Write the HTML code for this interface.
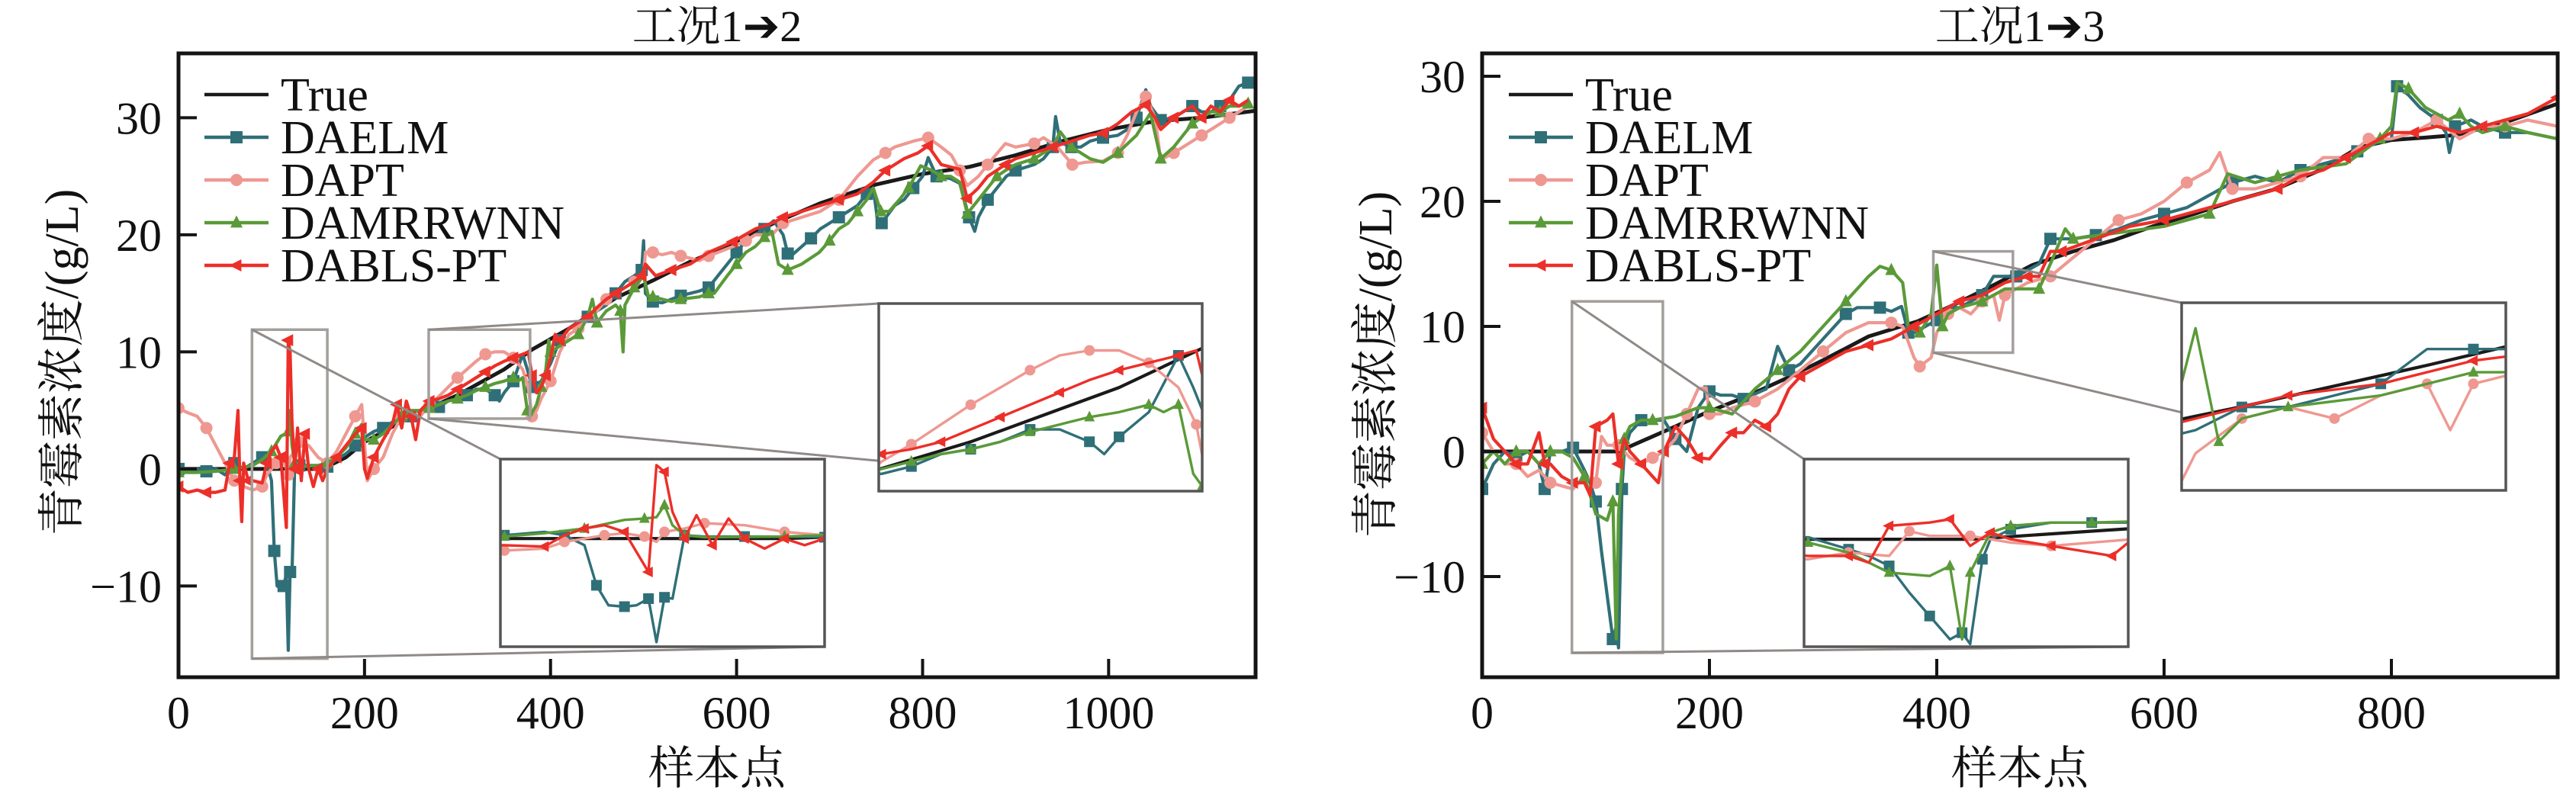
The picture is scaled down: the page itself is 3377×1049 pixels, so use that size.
<!DOCTYPE html>
<html><head><meta charset="utf-8">
<style>
html,body{margin:0;padding:0;background:#fff;overflow:hidden;width:3377px;height:1049px;}
svg{display:block;}
text{font-family:"Liberation Serif","Noto Serif CJK SC","Noto Sans CJK SC",serif;fill:#111;}
</style></head>
<body>
<svg id="fig" width="3377" height="1049" viewBox="0 0 3377 1049" xmlns="http://www.w3.org/2000/svg">
<defs>
<clipPath id="clipL"><rect x="234" y="70" width="1412" height="818"/></clipPath>
<clipPath id="clipR"><rect x="1943" y="70" width="1410" height="818"/></clipPath>
</defs>
<g id="panelL"></g>
<g id="panelR"></g>
</svg>
<script>
// ---------- data: panel 工况1→2 ----------
const L_TRUE = [[0,0],[150,0],[160,0.2],[180,1.0],[200,2.3],[250,4.5],[300,6.3],[350,8.5],[380,10.2],[420,12],[470,14.6],[510,16.1],[550,17.7],[590,19.0],[640,21],[690,22.7],[750,24.3],[800,25.2],[850,25.8],[900,26.8],[950,28],[1000,29],[1050,29.7],[1100,30],[1158,30.6]];
const L_DAELM = [[0,0],[10,-0.2],[20,0],[30,-0.2],[40,0],[50,-0.5],[60,0.5],[70,0],[80,0.5],[90,1],[95,0.5],[100,-1],[103,-7],[106,-10],[110,-10.2],[113,-10],[116,-9],[118,-15.5],[120,-8.8],[122,-9],[125,0.5],[130,0.3],[140,0.3],[150,0.3],[160,0.2],[170,0.8],[180,1.3],[190,2],[200,2.7],[210,3.2],[220,3.5],[230,4],[240,4.3],[250,4.5],[260,5],[270,5],[280,5.3],[290,5.8],[300,6],[310,6.3],[320,6.8],[330,6.8],[340,6.3],[345,5.8],[350,6.5],[360,7.5],[370,9.8],[375,8.5],[380,7],[390,7.5],[400,9],[410,11],[420,12],[430,12.5],[440,13],[450,13.5],[460,14],[470,15],[480,16],[490,16.5],[498,17],[500,19.5],[502,15],[510,14.3],[520,14.2],[530,14.5],[540,14.8],[550,15],[560,15.2],[570,15.5],[580,16.5],[590,17.5],[600,18.5],[610,19.5],[620,20],[630,20.5],[640,21.2],[650,20],[655,18.4],[660,18.3],[670,19],[680,19.7],[690,20.5],[700,21],[710,21.5],[720,22],[730,22.5],[740,23.5],[747,24],[752,21],[756,21],[770,22.5],[780,23],[790,24],[800,25],[806,26.6],[815,25],[830,24.8],[840,24.4],[850,21.5],[856,20.3],[860,21.5],[870,23],[880,24],[890,25],[900,25.5],[920,26],[930,26.5],[940,27.5],[943,30.1],[948,27.9],[960,27.5],[970,27.5],[980,28],[994,28.3],[1010,28.5],[1020,29],[1030,30],[1040,32.4],[1045,31],[1056,29.8],[1070,30],[1080,30.5],[1090,31],[1100,30.5],[1110,30.5],[1120,31],[1130,31.5],[1140,32.7],[1150,33]];
const L_DAPT = [[0,5.2],[10,4.8],[20,4.5],[30,3.5],[40,2],[50,0.5],[60,-1],[70,-1.5],[80,-1.8],[90,-1.5],[95,-0.5],[100,0],[105,0.5],[110,0.8],[115,0.3],[118,-0.5],[120,1],[125,1.5],[130,2.3],[140,2],[150,1],[160,0.5],[170,1.5],[180,3],[190,4.5],[197,5.5],[203,-1],[210,0],[220,1],[230,3],[240,4.5],[250,5],[260,4.5],[270,5.5],[280,6.2],[290,7],[300,7.8],[310,8.5],[320,9.2],[330,9.8],[340,10],[350,10],[360,9.5],[370,8.5],[376,7],[380,4.5],[385,5],[390,6],[400,7.5],[410,10],[420,11.5],[430,12],[440,12.8],[450,13.5],[460,14.5],[470,15],[480,15.5],[490,16],[500,16.5],[502,18.5],[510,18.5],[520,18.3],[530,18.5],[540,18.2],[550,18],[560,17.8],[570,18.2],[580,18.5],[596,19],[610,19.5],[620,20],[638,20],[650,21],[670,21.5],[690,22],[710,23],[730,25],[747,26.4],[760,27],[770,27.5],[790,28],[806,28.3],[820,27.5],[831,26.8],[840,25.5],[848,24.2],[860,25],[870,26],[889,27.8],[900,27.5],[920,27.8],[930,28.3],[945,27.5],[961,26],[975,26.2],[994,26.3],[1010,27],[1020,28.5],[1030,30.5],[1040,31.8],[1050,30],[1056,26.4],[1070,27],[1080,27.5],[1090,28],[1100,28.5],[1110,29],[1120,29.5],[1130,30],[1140,30.5],[1150,31]];
const L_DAMRRWNN = [[0,-0.3],[20,-0.3],[40,-0.2],[60,0],[80,0.3],[90,0.8],[100,1.5],[110,2.8],[115,3],[118,3.2],[120,5],[122,2],[125,0.5],[130,0.2],[150,0.3],[160,0.5],[170,1],[180,1.8],[190,3],[197,3.8],[200,2.5],[210,2.5],[220,3],[230,3.8],[240,4.5],[250,5],[260,5],[270,5.2],[280,5.5],[290,5.8],[300,6],[310,6.3],[320,6.7],[330,7],[340,7.3],[350,7.5],[360,7.8],[365,7.5],[370,7.8],[375,5],[378,4.5],[385,5.5],[390,7],[395,8.5],[398,11],[400,10],[410,10.5],[420,11],[430,11.5],[440,13],[445,14.5],[450,12.5],[460,13.5],[470,14],[475,13.5],[478,10],[480,14],[490,15.5],[500,16.5],[505,14.8],[510,14.7],[520,14.5],[530,14.3],[540,14.5],[550,14.6],[560,14.7],[570,15],[576,15],[590,16.5],[600,17.5],[610,18.5],[620,19],[630,19.8],[638,20.3],[645,17.5],[655,17],[670,17.5],[689,18.5],[700,19.5],[710,20.5],[720,21],[730,22],[740,23],[747,24],[755,22],[764,22],[775,23],[785,24],[798,25.9],[810,25.5],[820,25],[830,25],[840,24.5],[848,21.8],[860,23],[870,24],[880,25],[889,25.5],[900,26],[920,26.5],[940,27.5],[948,28.8],[960,27.5],[980,26.5],[994,26.2],[1010,27],[1030,28.5],[1045,30.4],[1056,26.5],[1070,27.5],[1080,28.5],[1090,29.5],[1100,30],[1110,30.5],[1120,30.5],[1130,31],[1140,31],[1150,31.2]];
const L_DABLS = [[0,-1.5],[10,-2],[20,-1.8],[30,-2],[40,-2],[50,-1.8],[55,0.5],[60,1],[64,5],[66,-1],[68,-4.5],[70,0.5],[75,-1],[80,-1],[90,-1.2],[95,0.5],[100,1.5],[105,2],[110,1],[113,-2],[116,-5],[118,11],[120,10],[122,4],[125,0],[128,3.5],[132,-1],[136,3],[140,0],[145,-1.5],[150,0],[155,-1],[160,0],[170,1],[180,2],[190,3],[197,3.5],[200,0],[203,-0.8],[210,1],[220,2.5],[230,3.8],[235,5.5],[240,3.5],[245,5.8],[250,4.5],[255,2.5],[260,5],[270,5.8],[280,6],[290,6.3],[300,6.8],[310,7.3],[320,7.8],[330,8.3],[340,8.8],[350,9.2],[360,9.5],[370,9.8],[376,10],[380,8],[385,6.5],[390,7],[395,8],[400,9.5],[405,11.5],[410,11],[420,12],[430,12.5],[440,13],[450,13.8],[460,14.5],[470,15],[480,15.5],[490,16],[498,16.5],[502,17.5],[513,16.5],[530,17],[550,17.5],[570,18.5],[596,19.4],[620,20.5],[638,21],[650,21.5],[670,22],[690,22.5],[710,23],[730,23.5],[747,24.5],[760,25.5],[780,26.5],[795,27],[806,27.6],[820,26],[840,25.6],[848,23.1],[860,24],[870,25],[889,26],[900,26.5],[920,27],[940,27.5],[960,28],[980,28.5],[994,28.7],[1010,29.5],[1025,30.5],[1040,31.1],[1050,30],[1056,29],[1070,30],[1080,30.5],[1090,31],[1100,30],[1110,31],[1120,30.5],[1130,31.5],[1140,31],[1150,31.5]];

// ---------- data: panel 工况1→3 ----------
const R_TRUE = [[0,0],[120,0],[130,0.4],[150,1.2],[170,2],[197,3.1],[230,4.3],[269,5.9],[300,7.3],[340,9.2],[383,10.4],[412,11.6],[450,13.3],[484,14.9],[520,16],[556,16.9],[590,18],[627,19],[660,20],[699,21],[740,22.6],[771,24.3],[800,24.9],[830,25.1],[857,25.3],[900,26.3],[946,27.8]];
const R_DAELM = [[0,-3],[10,-1],[20,0],[30,-0.5],[40,0],[50,-1],[55,-3],[60,0],[70,0],[80,0.3],[90,-1.5],[95,-2.5],[100,-4],[105,-8],[110,-11.5],[115,-15],[118,-14],[120,-15.7],[123,-3],[125,0],[130,1.5],[140,2.5],[150,2.5],[160,2.5],[170,1],[180,0],[190,3.5],[200,4.8],[210,4.5],[220,4.5],[230,4.2],[250,5],[260,8.4],[270,6.5],[280,7],[300,9],[320,11],[330,11.5],[340,11.5],[350,11.5],[360,11.2],[369,11.6],[375,9.5],[380,9.5],[390,10],[400,10.5],[410,11.5],[420,11.5],[440,12.5],[450,14],[460,14],[470,14],[480,14.5],[490,15],[500,17],[510,17],[520,17],[540,17.3],[560,17.8],[580,18.5],[600,19],[620,19.5],[640,20.5],[660,21.5],[680,22],[700,21.5],[720,22.5],[740,23],[760,23.5],[770,24],[790,24.8],[800,25],[805,29.2],[815,28.5],[825,27.5],[840,26.5],[848,25.5],[851,23.9],[856,26],[870,26.5],[880,26],[900,25.5],[920,25.5],[946,25]];
const R_DAPT = [[0,1.5],[10,0],[20,-1],[30,-1],[40,-2],[50,-1.5],[60,-2.5],[80,-3],[90,-2],[100,-2.5],[105,1.2],[110,0.5],[120,0.5],[130,-0.5],[140,-1],[150,-0.5],[160,0],[170,1],[180,3],[190,5],[197,5.1],[200,3],[210,3],[220,3.5],[240,4],[260,5],[280,6.5],[300,8],[320,9.5],[340,10.3],[360,10.3],[370,10],[380,7.5],[385,6.8],[395,7.5],[400,9.5],[410,11],[420,11.5],[430,11],[440,12],[450,12.5],[455,10.5],[460,12.5],[470,13],[480,13.5],[500,14],[520,15.5],[540,17],[560,18.5],[580,19],[600,20],[620,21.5],[640,22.5],[649,23.9],[660,21],[680,21],[700,21.5],[720,22],[740,23.5],[760,23.5],[780,25],[800,25],[820,25.5],[840,26.5],[860,25],[880,26],[900,26],[920,26.5],[946,26]];
const R_DAMRRWNN = [[0,-1],[10,0],[20,-1],[30,0],[40,0],[50,-1],[60,0],[70,0],[80,-0.5],[90,-2],[100,-5],[110,-5.5],[115,-4],[118,-15],[120,-5],[125,1],[130,2],[140,2.5],[150,2.5],[170,2.8],[190,3.5],[200,3.5],[220,3],[240,5],[260,6.5],[280,8],[300,10],[320,12],[340,14],[350,14.8],[360,14.5],[370,13.5],[375,10],[385,9.5],[395,11],[400,14.9],[405,10],[410,11],[420,11.5],[440,12],[460,13],[480,13],[490,13],[500,15],[513,17.8],[520,17],[560,17.5],[600,18],[640,19],[656,22.2],[680,21.5],[700,22],[720,22.5],[760,23],[790,25],[800,26],[805,29.5],[815,29],[830,27.5],[850,26.5],[860,27],[870,26],[880,25.5],[900,26],[920,25.5],[946,25]];
const R_DABLS = [[0,3.5],[10,1],[20,0],[30,-1],[40,-1],[50,1.5],[55,-1],[60,-1],[70,-2],[80,-2.5],[90,-2.5],[95,-3.5],[100,2],[110,2.5],[115,3],[120,-1],[125,1],[130,0],[140,-1],[150,-2],[155,-2.5],[160,0],[170,2],[180,1],[190,-0.5],[200,-0.6],[210,0.5],[220,1.5],[230,1.5],[240,2.5],[250,2],[260,3],[270,5],[280,6],[300,7],[320,8],[340,8.5],[360,9],[370,9.5],[380,10],[390,10.5],[400,11],[420,12],[440,12.5],[460,13.5],[480,14],[490,14],[500,16],[510,16],[540,17],[570,18],[600,18.5],[640,19.5],[680,20.5],[700,21],[720,22],[740,22.5],[760,23.5],[780,24.5],[800,25.5],[820,25.5],[840,26],[860,25.5],[880,26],[900,26.5],[920,27],[946,28.3]];

const X_TICKS_L = [0,200,400,600,800,1000];
const X_TICKS_R = [0,200,400,600,800];
const Y_TICKS_L = [-10,0,10,20,30];
const Y_TICKS_R = [-10,0,10,20,30];
const SERIES_NAMES = ["True","DAELM","DAPT","DAMRRWNN","DABLS-PT"];

// ---------- styles ----------
const STY = {
  "True":{c:"#1a1a1a",m:null},
  "DAELM":{c:"#2f6f78",m:"sq"},
  "DAPT":{c:"#ee9891",m:"ci"},
  "DAMRRWNN":{c:"#5a9a38",m:"tri"},
  "DABLS-PT":{c:"#ec2f28",m:"lt"}
};
const NS="http://www.w3.org/2000/svg";
function el(tag,attrs,parent){const e=document.createElementNS(NS,tag);for(const k in attrs)e.setAttribute(k,attrs[k]);if(parent)parent.appendChild(e);return e;}
function marker(g,type,x,y,c,s){
  let e;
  if(type==="sq"){e=el("rect",{x:x-s,y:y-s,width:2*s,height:2*s,fill:c},g);}
  else if(type==="ci"){e=el("circle",{cx:x,cy:y,r:s,fill:c},g);}
  else if(type==="tri"){e=el("polygon",{points:`${x},${y-s*1.2} ${x-s},${y+s*0.8} ${x+s},${y+s*0.8}`,fill:c},g);}
  else {e=el("polygon",{points:`${x-s*1.2},${y} ${x+s*0.8},${y-s} ${x+s*0.8},${y+s}`,fill:c},g);}
  return e;
}
function drawSeries(g,data,name,sx,sy,lw,ms,every,clip){
  const st=STY[name];
  const grp=el("g",{"clip-path":clip?`url(#${clip})`:""},g);
  
  
  const d=data.map((p,i)=>(i?"L":"M")+sx(p[0]).toFixed(1)+","+sy(p[1]).toFixed(1)).join(" ");
  const path=el("path",{d:d,fill:"none",stroke:st.c,"stroke-width":name==="True"?lw+0.8:lw,"stroke-linejoin":"round"},grp);
  
  
  if(st.m){
    data.forEach((p,i)=>{ if(i%every===0){
      const m=marker(grp,st.m,sx(p[0]),sy(p[1]),st.c,ms);
      
      
    }});
  }
}
function drawPanel(root,P){
  const sx=v=>P.x0+(v-P.xmin)/(P.xmax-P.xmin)*(P.x1-P.x0);
  const sy=v=>P.y1-(v-P.ymin)/(P.ymax-P.ymin)*(P.y1-P.y0);
  const t=el("text",{x:(P.x0+P.x1)/2,y:54,"text-anchor":"middle","font-size":58},root);
  t.textContent=P.title;
  
  
  P.series.forEach(s=>drawSeries(root,s.d,s.n,sx,sy,4.2,8,3,P.clip));
  P.wins.forEach((w,wi)=>{
    const bx0=sx(w.d[0]),bx1=sx(w.d[1]),by0=sy(w.d[3]),by1=sy(w.d[2]);
    const wg=el("g",{},root);
    
    
    el("rect",{x:bx0,y:by0,width:bx1-bx0,height:by1-by0,fill:"none",stroke:"#a39f9c","stroke-width":3.5},wg);
    const r=w.r;
    el("line",{x1:bx0,y1:by0,x2:r[0],y2:r[1],stroke:"#8f8a87","stroke-width":3},wg);
    el("line",{x1:bx0,y1:by1,x2:r[0]+r[2],y2:r[1]+r[3],stroke:"#8f8a87","stroke-width":3},wg);
    const ig=el("g",{},root);
    
    
    el("rect",{x:r[0],y:r[1],width:r[2],height:r[3],fill:"#fff"},ig);
    const cid=P.clip+"w"+wi;
    const cp=el("clipPath",{id:cid},document.querySelector("defs"));
    el("rect",{x:r[0],y:r[1],width:r[2],height:r[3]},cp);
    const isx=v=>r[0]+(v-w.d[0])/(w.d[1]-w.d[0])*r[2];
    const isy=v=>r[1]+r[3]-(v-w.d[2])/(w.d[3]-w.d[2])*r[3];
    P.series.forEach(s=>drawSeries(ig,s.d,s.n,isx,isy,3.4,7,2,cid));
    el("rect",{x:r[0],y:r[1],width:r[2],height:r[3],fill:"none",stroke:"#555","stroke-width":3.5},ig);
  });
  const ax=el("rect",{x:P.x0,y:P.y0,width:P.x1-P.x0,height:P.y1-P.y0,fill:"none",stroke:"#141414","stroke-width":5},root);
  
  
  P.xt.forEach(v=>{
    const x=sx(v);
    el("line",{x1:x,y1:P.y1,x2:x,y2:P.y1-24,stroke:"#141414","stroke-width":4},root);
    const tx=el("text",{x:x,y:955,"text-anchor":"middle","font-size":60},root);
    tx.textContent=v;
    
    
  });
  P.yt.forEach(v=>{
    const y=sy(v);
    el("line",{x1:P.x0,y1:y,x2:P.x0+24,y2:y,stroke:"#141414","stroke-width":4},root);
    const ty=el("text",{x:P.x0-22,y:y+21,"text-anchor":"end","font-size":60},root);
    ty.textContent=(v<0?"\u2212":"")+Math.abs(v);
    
    
  });
  const xl=el("text",{x:(P.x0+P.x1)/2,y:1028,"text-anchor":"middle","font-size":60},root);
  xl.textContent="样本点";
  
  
  const yl=el("text",{x:0,y:0,"text-anchor":"middle","font-size":62,transform:`translate(${P.ylx},${P.yly}) rotate(-90)`},root);
  yl.textContent="青霉素浓度/(g/L)";
  
  
  const lg=el("g",{},root);
  
  
  SERIES_NAMES.forEach((n,i)=>{
    const cy=124+i*56;
    const eg=el("g",{},lg);
    
    
    el("line",{x1:P.lgx,y1:cy,x2:P.lgx+84,y2:cy,stroke:STY[n].c,"stroke-width":4.5},eg);
    if(STY[n].m) marker(eg,STY[n].m,P.lgx+42,cy,STY[n].c,8);
    const tt=el("text",{x:P.lgx+100,y:cy+21,"font-size":62},eg);
    tt.textContent=n;
  });
}
drawPanel(document.getElementById("panelL"),{
  title:"工况1➔2",x0:234,x1:1646,y0:70,y1:888,xmin:0,xmax:1158,ymin:-17.79,ymax:35.5,
  xt:X_TICKS_L,yt:Y_TICKS_L,clip:"clipL",ylx:102,yly:475,lgx:268,
  series:[{n:"True",d:L_TRUE},{n:"DAELM",d:L_DAELM},{n:"DAPT",d:L_DAPT},{n:"DAMRRWNN",d:L_DAMRRWNN},{n:"DABLS-PT",d:L_DABLS}],
  wins:[{d:[79,160,-16.2,11.9],r:[656,602,425,246]},{d:[269,378,4.3,11.9],r:[1152,398,424,246]}]
});
drawPanel(document.getElementById("panelR"),{
  title:"工况1➔3",x0:1943,x1:3353,y0:70,y1:888,xmin:0,xmax:946.3,ymin:-18.05,ymax:31.83,
  xt:X_TICKS_R,yt:Y_TICKS_R,clip:"clipR",ylx:1824,yly:478,lgx:1978,
  series:[{n:"True",d:R_TRUE},{n:"DAELM",d:R_DAELM},{n:"DAPT",d:R_DAPT},{n:"DAMRRWNN",d:R_DAMRRWNN},{n:"DABLS-PT",d:R_DABLS}],
  wins:[{d:[79,159,-16.1,12],r:[2365,602,425,246]},{d:[397,467,7.9,16],r:[2860,397,425,246]}]
});
</script>
</body></html>
